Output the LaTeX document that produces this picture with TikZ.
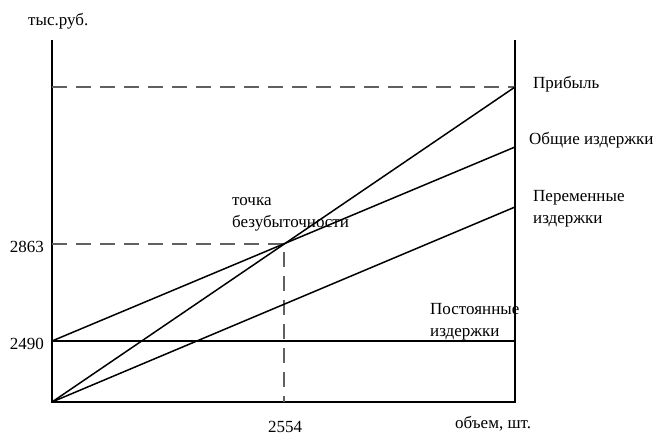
\documentclass[tikz,border=0pt]{standalone}
\usepackage{fontspec}
\setmainfont{Liberation Serif}
\begin{document}
\begin{tikzpicture}[x=1pt,y=-1pt,axisline/.style={line width=1.9pt},grafline/.style={line width=1.5pt},helpline/.style={dashed,gray!75!black,line width=1.4pt,dash pattern=on 15pt off 9pt},lbl/.style={font=\fontsize{17}{21.5}\selectfont,inner sep=0pt,align=left}]
\useasboundingbox (0,0) rectangle (668,436);
\coordinate (O) at (52,402);
\coordinate (T) at (52,40);
\coordinate (R) at (515,402);
\coordinate (RT) at (515,40);
\coordinate (F) at (52,341);
\coordinate (FR) at (515,341);
\coordinate (P) at (515,87);
\coordinate (PL) at (52,87);
\coordinate (C) at (515,147);
\coordinate (V) at (515,207);
\coordinate (B) at (284,244);
\coordinate (BL) at (52,244);
\coordinate (BD) at (284,402);
% axes
\draw[axisline] (T) -- (O) -- (R) -- (RT);
% dashed lines
\draw[helpline] (PL) -- (P);
\draw[helpline] (BL) -- (B) -- (BD);
% lines
\draw[grafline] (F) -- (FR);
\draw[grafline] (O) -- (P);
\draw[grafline] (F) -- (C);
\draw[grafline] (O) -- (V);
% labels
\node[lbl,anchor=base west] (ylab) at (28,26) {тыс.руб.};
\node[lbl,anchor=base east] (y2863) at (44,252) {2863};
\node[lbl,anchor=base east] (y2490) at (44,349) {2490};
\node[lbl,anchor=base] (x2554) at (285,432) {2554};
\node[lbl,anchor=base west] (xlab) at (455,428) {объем, шт.};
\node[lbl,anchor=base west] (prib) at (533,88) {Прибыль};
\node[lbl,anchor=base west] (obsh) at (529,144) {Общие издержки};
\node[lbl,anchor=base west] (perem) at (533,223) {Переменные\\издержки};
\node[lbl,anchor=base west] (tochka) at (232,227) {точка\\безубыточности};
\node[lbl,anchor=base west] (post) at (430,336) {Постоянные\\издержки};
\end{tikzpicture}
\end{document}
